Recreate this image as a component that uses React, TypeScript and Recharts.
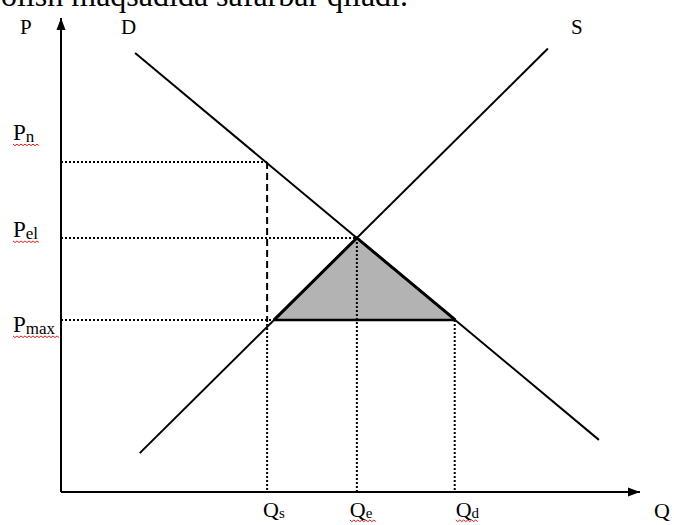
import React from "react";
import {
  ComposedChart,
  Line,
  Area,
  XAxis,
  YAxis,
  ReferenceDot,
} from "recharts";

// ---- data (Q = quantity, P = price, both on a 0..100 scale) ----
const demandQ = [12.8, 92.9];
const demandP = [92.6, 11.0];
const supplyQ = [13.6, 84.1];
const supplyP = [8.2, 93.55];

const Q_S = 35.6;
const Q_E = 51.1;
const Q_D = 68.0;
const P_N = 69.6;
const P_E = 53.6;
const P_MAX = 36.3;
const TRI_LEFT_Q = 36.8; // supply at P_MAX
const TRI_RIGHT_Q = 68.1; // demand at P_MAX

const qTicks = [Q_S, Q_E, Q_D];
const qTickMain = ["Q", "Q", "Q"];
const qTickSub = ["s", "e", "d"];
const pTicks = [P_MAX, P_E, P_N];
const pTickMain = ["P", "P", "P"];
const pTickSub = ["max", "el", "n"];
const topText = "olish maqsadida safarbar qiladi.";

// ---- series built from the arrays ----
const toPts = (qs: number[], ps: number[]) => qs.map((q, i) => ({ q, p: ps[i] }));
const demandData = toPts(demandQ, demandP);
const supplyData = toPts(supplyQ, supplyP);
const triangleData = toPts([TRI_LEFT_Q, Q_E, TRI_RIGHT_Q], [P_MAX, P_E, P_MAX]);
const triangleBase = toPts([TRI_LEFT_Q, TRI_RIGHT_Q], [P_MAX, P_MAX]);
const pnLine = toPts([0, Q_S], [P_N, P_N]);
const peLine = toPts([0, Q_E], [P_E, P_E]);
const pmaxLine = toPts([0, TRI_LEFT_Q], [P_MAX, P_MAX]);
const qsDashed = toPts([Q_S, Q_S], [P_N, P_MAX]);
const qsDotted = toPts([Q_S, Q_S], [P_MAX, 0]);
const qeLine = toPts([Q_E, Q_E], [P_E, 0]);
const qdLine = toPts([Q_D, Q_D], [P_MAX, 0]);
const xAxisData = toPts([0, 100], [0, 0]);
const yAxisData = toPts([0, 0], [0, 100]);

// ---- styles ----
const FONT = "'Liberation Serif', 'Times New Roman', serif";
const fontStyle = { fontFamily: FONT };
const DOT = "2 2";
const pLabelDy = [12, -1, -22];
const pSquiggleW = [45, 25, 25];
const qLabelDx = [-4, -7, 1];
const qSquiggle = [0, 25, 21];

const wave = (x0: number, y: number, w: number) => {
  if (!w) return null;
  let d = `M ${x0} ${y}`;
  const n = Math.round(w / 2);
  for (let i = 0; i < n; i++) d += ` l 2 ${i % 2 === 0 ? 1.6 : -1.6}`;
  return <path d={d} fill="none" stroke="#e02020" strokeWidth={1} />;
};

const findIdx = (arr: number[], v: number) =>
  arr.findIndex((t) => Math.abs(t - v) < 1e-6);

const PTick = (props: any) => {
  const { x, y, payload } = props;
  const i = findIdx(pTicks, payload.value);
  if (i < 0) return <g />;
  const bx = x - 48;
  const by = y + pLabelDy[i];
  return (
    <g>
      <text x={bx} y={by} style={fontStyle} fontSize={23} fill="#000">
        <tspan>{pTickMain[i]}</tspan>
        <tspan fontSize={17} dy={2}>
          {pTickSub[i]}
        </tspan>
      </text>
      {wave(bx, by + 4, pSquiggleW[i])}
    </g>
  );
};

const QTick = (props: any) => {
  const { x, y, payload } = props;
  const i = findIdx(qTicks, payload.value);
  if (i < 0) return <g />;
  const bx = x + qLabelDx[i];
  const by = y + 25;
  return (
    <g>
      <text x={bx} y={by} style={fontStyle} fontSize={22} fill="#000">
        <tspan>{qTickMain[i]}</tspan>
        <tspan fontSize={15} dy={1}>
          {qTickSub[i]}
        </tspan>
      </text>
      {wave(bx, by + 3, qSquiggle[i])}
    </g>
  );
};

const arrowDot = (dir: "up" | "right") => (props: any) => {
  const { cx, cy, index } = props;
  if (index !== 1 || cx == null) return <g key={`a-${dir}-${index}`} />;
  const pts =
    dir === "up"
      ? `${cx},${cy} ${cx - 4.5},${cy + 12} ${cx + 4.5},${cy + 12}`
      : `${cx},${cy} ${cx - 12},${cy - 4.5} ${cx - 12},${cy + 4.5}`;
  return <polygon key={`a-${dir}-${index}`} points={pts} fill="#000" />;
};

const dotLabel = (txt: string, dx: number, dy: number) => (p: any) => {
  const vb = p.viewBox || {};
  const cx = (vb.x ?? 0) + (vb.width ?? 0) / 2;
  const cy = (vb.y ?? 0) + (vb.height ?? 0) / 2;
  return (
    <text x={cx + dx} y={cy + dy} style={fontStyle} fontSize={21} fill="#000">
      {txt}
    </text>
  );
};

const QAxisLabel = (p: any) => {
  const vb = p.viewBox || {};
  return (
    <text
      x={(vb.x ?? 0) + (vb.width ?? 0) + 14}
      y={(vb.y ?? 0) + 26}
      style={fontStyle}
      fontSize={22}
      fill="#000"
    >
      Q
    </text>
  );
};

const PAxisLabel = (p: any) => {
  const vb = p.viewBox || {};
  return (
    <text
      x={(vb.x ?? 0) + 20}
      y={(vb.y ?? 0) + 16}
      style={fontStyle}
      fontSize={21}
      fill="#000"
    >
      P
    </text>
  );
};

export default function App() {
  const lineCommon = {
    dataKey: "p",
    type: "linear" as const,
    dot: false,
    activeDot: false,
    isAnimationActive: false,
    legendType: "none" as const,
  };
  return (
    <div
      style={{
        position: "absolute",
        left: 0,
        top: 0,
        width: 674,
        height: 525,
        background: "#fff",
        overflow: "hidden",
      }}
    >
      <svg
        width={674}
        height={20}
        style={{ position: "absolute", left: 0, top: 0 }}
      >
        <text x={1} y={6} style={fontStyle} fontSize={32} fill="#000">
          {topText}
        </text>
      </svg>
      <div style={{ position: "absolute", left: 0, top: 0 }}>
        <ComposedChart
          width={674}
          height={525}
          margin={{ top: 18, right: 34, left: 0, bottom: 0 }}
        >
          <XAxis
            dataKey="q"
            type="number"
            domain={[0, 100]}
            ticks={qTicks}
            interval={0}
            axisLine={false}
            tickLine={false}
            tickSize={0}
            tickMargin={0}
            height={33}
            tick={<QTick />}
            label={{ content: QAxisLabel }}
          />
          <YAxis
            dataKey="p"
            type="number"
            domain={[0, 100]}
            ticks={pTicks}
            interval={0}
            axisLine={false}
            tickLine={false}
            tickSize={0}
            tickMargin={0}
            width={61}
            tick={<PTick />}
            label={{ content: PAxisLabel }}
          />
          <Area
            data={triangleData}
            dataKey="p"
            type="linear"
            baseValue={P_MAX}
            fill="#b3b3b3"
            fillOpacity={1}
            stroke="#000"
            strokeWidth={3}
            dot={false}
            activeDot={false}
            isAnimationActive={false}
          />
          <Line {...lineCommon} data={pnLine} stroke="#000" strokeWidth={2} strokeDasharray={DOT} />
          <Line {...lineCommon} data={peLine} stroke="#000" strokeWidth={2} strokeDasharray={DOT} />
          <Line {...lineCommon} data={pmaxLine} stroke="#000" strokeWidth={2} strokeDasharray={DOT} />
          <Line {...lineCommon} data={qsDashed} stroke="#000" strokeWidth={2} strokeDasharray="7 4" />
          <Line {...lineCommon} data={qsDotted} stroke="#000" strokeWidth={2} strokeDasharray={DOT} />
          <Line {...lineCommon} data={qeLine} stroke="#000" strokeWidth={2} strokeDasharray={DOT} />
          <Line {...lineCommon} data={qdLine} stroke="#000" strokeWidth={2} strokeDasharray={DOT} />
          <Line {...lineCommon} data={triangleBase} stroke="#000" strokeWidth={2.5} />
          <Line {...lineCommon} data={demandData} stroke="#000" strokeWidth={2} />
          <Line {...lineCommon} data={supplyData} stroke="#000" strokeWidth={2} />
          <Line
            {...lineCommon}
            data={xAxisData}
            stroke="#000"
            strokeWidth={2}
            dot={arrowDot("right")}
          />
          <Line
            {...lineCommon}
            data={yAxisData}
            stroke="#000"
            strokeWidth={2}
            dot={arrowDot("up")}
          />
          <ReferenceDot
            x={demandQ[0]}
            y={demandP[0]}
            r={1}
            fill="none"
            stroke="none"
            label={{ content: dotLabel("D", -14, -19) }}
          />
          <ReferenceDot
            x={supplyQ[1]}
            y={supplyP[1]}
            r={1}
            fill="none"
            stroke="none"
            label={{ content: dotLabel("S", 23, -15) }}
          />
        </ComposedChart>
      </div>
    </div>
  );
}
